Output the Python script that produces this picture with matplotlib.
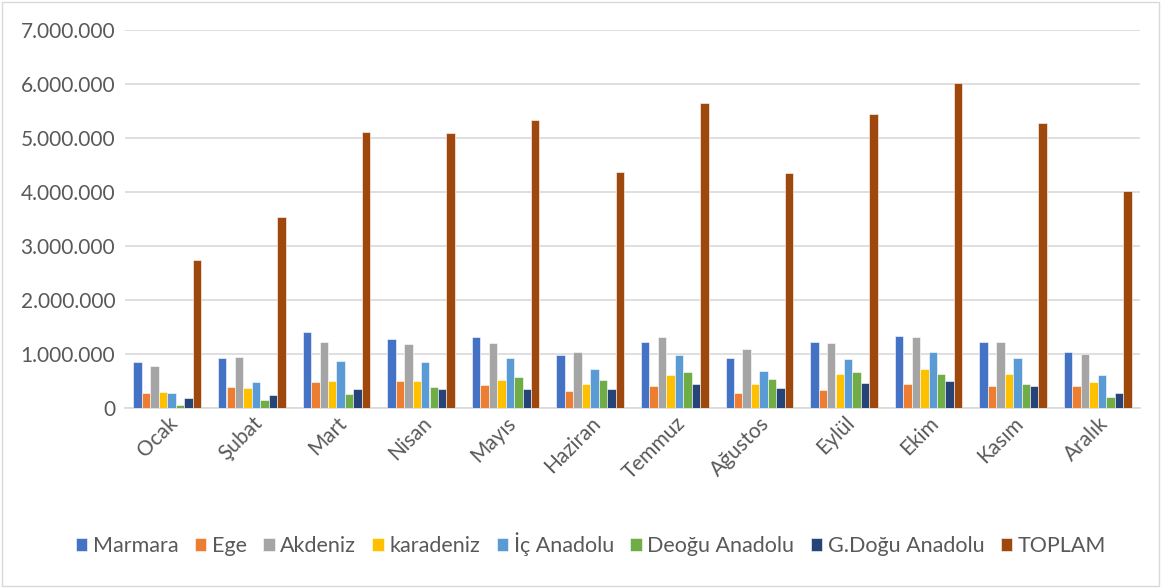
import numpy as np
import matplotlib.pyplot as plt
import matplotlib.patches as patches
from matplotlib.ticker import FuncFormatter

plt.rcParams["font.family"] = ["Lato", "DejaVu Sans"]

months = ["Ocak", "Şubat", "Mart", "Nisan", "Mayıs", "Haziran",
          "Temmuz", "Ağustos", "Eylül", "Ekim", "Kasım", "Aralık"]

regions = ["Marmara", "Ege", "Akdeniz", "karadeniz", "İç Anadolu",
           "Deoğu Anadolu", "G.Doğu Anadolu", "TOPLAM"]

marmara = [860000, 930000, 1400000, 1280000, 1320000, 990000,
           1230000, 920000, 1220000, 1340000, 1220000, 1040000]
ege = [276000, 390000, 480000, 500000, 430000, 320000,
       410000, 280000, 330000, 440000, 400000, 410000]
akdeniz = [770000, 940000, 1230000, 1180000, 1210000, 1030000,
           1320000, 1090000, 1210000, 1320000, 1220000, 1000000]
karadeniz = [290000, 370000, 500000, 500000, 520000, 440000,
             610000, 450000, 630000, 730000, 630000, 480000]
ic_anadolu = [280000, 480000, 870000, 860000, 920000, 730000,
              990000, 690000, 900000, 1030000, 930000, 610000]
dogu_anadolu = [55000, 150000, 260000, 390000, 570000, 520000,
                660000, 530000, 670000, 630000, 440000, 200000]
gdogu_anadolu = [180000, 250000, 360000, 360000, 350000, 350000,
                 450000, 370000, 470000, 500000, 410000, 270000]
toplam = [2740000, 3530000, 5110000, 5100000, 5340000, 4370000,
          5650000, 4360000, 5450000, 6020000, 5280000, 4010000]

series = [marmara, ege, akdeniz, karadeniz, ic_anadolu,
          dogu_anadolu, gdogu_anadolu, toplam]
colors = ["#4472C4", "#ED7D31", "#A5A5A5", "#FFC000", "#5B9BD5",
          "#70AD47", "#264478", "#9E480E"]

fig = plt.figure(figsize=(11.61, 5.88), dpi=100)
ax = fig.add_axes([125 / 1161, 1 - 408 / 588, 1015 / 1161, 378 / 588])

# chart border
fig.patches.append(patches.Rectangle((0.002, 0.003), 0.996, 0.994,
                                     transform=fig.transFigure, fill=False,
                                     edgecolor="#D9D9D9", linewidth=1))

x = np.arange(len(months))
bar_w = 0.1
for i, (vals, name, col) in enumerate(zip(series, regions, colors)):
    offset = (i - 3.5) * bar_w
    ax.bar(x + offset, vals, width=bar_w, color=col, label=name,
           edgecolor="white", linewidth=0.4, zorder=3)

ax.set_xlim(-0.5, len(months) - 0.5)
ax.set_ylim(0, 7000000)
ax.set_yticks(np.arange(0, 7000001, 1000000))
ax.yaxis.set_major_formatter(
    FuncFormatter(lambda v, p: f"{int(v):,}".replace(",", ".")))
ax.grid(axis="y", color="#D9D9D9", linewidth=1.2, zorder=0)
for s in ["top", "right", "left"]:
    ax.spines[s].set_visible(False)
ax.spines["bottom"].set_color("#D9D9D9")
ax.spines["bottom"].set_linewidth(1.2)
ax.tick_params(axis="both", length=0, colors="#595959", labelsize=15)
ax.tick_params(axis="y", pad=7)
ax.set_xticks(x)
ax.set_xticklabels(months, rotation=45, ha="right", rotation_mode="anchor")

ax.legend(loc="center", bbox_to_anchor=(0.459, -0.36), ncol=8, frameon=False,
          fontsize=15.5, handlelength=0.55, handleheight=0.55,
          handletextpad=0.25, columnspacing=0.75, labelcolor="#595959")

fig.savefig("out.png", dpi=100)
